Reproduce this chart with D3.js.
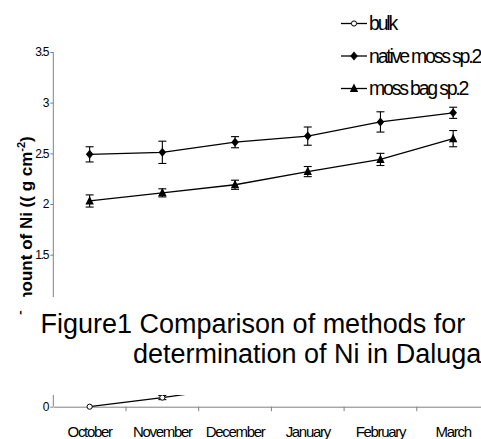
<!DOCTYPE html>
<html lang="en">
<head>
<meta charset="UTF-8">
<title>Ni in Daluga</title>
<script src="https://d3js.org/d3.v7.min.js"></script>
<style>
  body { margin: 0; background: #fff; }
  svg { display: block; font-family: "Liberation Sans", Arial, sans-serif; }
</style>
</head>
<body>
<div id="chart"></div>
<script>
// data
var months = ["October", "November", "December", "January", "February", "March"];
var bulk = [0, 0.09, 0.19, 0.27, 0.38, 0.47];
var bulkErr = [0, 0.02, 0.02, 0.02, 0.02, 0.02];
var nativeMoss = [2.49, 2.51, 2.61, 2.67, 2.81, 2.90];
var nativeErr = [0.075, 0.11, 0.055, 0.09, 0.10, 0.055];
var mossBag = [2.03, 2.11, 2.19, 2.32, 2.44, 2.645];
var mossBagErr = [0.06, 0.04, 0.045, 0.05, 0.06, 0.08];
var yTicks = [0, 0.5, 1, 1.5, 2, 2.5, 3, 3.5];
// 0.5 and 1 sit under the caption box, so they get no label
var yHidden = [0.5, 1];
var seriesNames = ["bulk", "native moss sp.2", "moss bag sp.2"];

var width = 481, height = 439;

var svg = d3.select("#chart").append("svg")
    .attr("width", width)
    .attr("height", height);

var x = d3.scaleBand().domain(months).range([53.3, 489.5]).padding(0);
var y = d3.scaleLinear().domain([0, 3.5]).range([406.7, 52]);

var series = [
    { name: seriesNames[0], values: bulk, err: bulkErr, symbol: "circle" },
    { name: seriesNames[1], values: nativeMoss, err: nativeErr, symbol: "diamond" },
    { name: seriesNames[2], values: mossBag, err: mossBagErr, symbol: "triangle" }
];

function cx(i) { return x(months[i]) + x.bandwidth() / 2; }

// marker drawing
function drawMarker(g, type, px, py) {
    if (type == "circle") {
        g.append("circle").attr("cx", px).attr("cy", py).attr("r", 2.6)
            .attr("fill", "#fff").attr("stroke", "#000").attr("stroke-width", 1);
    } else if (type == "diamond") {
        g.append("path")
            .attr("d", "M" + px + "," + (py - 4.5) + "L" + (px + 3.8) + "," + py + "L" + px + "," + (py + 4.5) + "L" + (px - 3.8) + "," + py + "Z")
            .attr("fill", "#000");
    } else {
        g.append("path")
            .attr("d", "M" + px + "," + (py - 5) + "L" + (px + 4.2) + "," + (py + 3.5) + "L" + (px - 4.2) + "," + (py + 3.5) + "Z")
            .attr("fill", "#000");
    }
}

// y axis
var yAxis = svg.append("g")
    .attr("transform", "translate(53.3,0)")
    .call(d3.axisLeft(y).tickValues(yTicks).tickSize(3).tickPadding(2)
        .tickFormat(function(d) { return yHidden.indexOf(d) >= 0 ? "" : d3.format("")(d); }));
yAxis.select(".domain").attr("stroke", "#808080").attr("d", "M0," + y(3.5) + "V" + y(0));
yAxis.selectAll(".tick line").attr("stroke", "#808080");
yAxis.selectAll(".tick text")
    .attr("font-size", "12px")
    .attr("letter-spacing", "-1.2px")
    .attr("fill", "#000")
    .attr("font-family", "Liberation Sans, Arial, sans-serif");

// x axis
var xAxis = svg.append("g")
    .attr("transform", "translate(0," + y(0) + ")")
    .call(d3.axisBottom(x).tickSize(0).tickPadding(20));
xAxis.select(".domain").attr("stroke", "#808080");
xAxis.selectAll(".tick text")
    .attr("font-size", "15px")
    .attr("letter-spacing", "-1.3px")
    .attr("fill", "#000")
    .attr("font-family", "Liberation Sans, Arial, sans-serif");
xAxis.selectAll(".boundary")
    .data(months)
    .enter().append("line")
    .attr("x1", function(d) { return x(d) + x.bandwidth(); })
    .attr("x2", function(d) { return x(d) + x.bandwidth(); })
    .attr("y1", 0).attr("y2", 4.5)
    .attr("stroke", "#808080");

// series
var line = d3.line()
    .x(function(d, i) { return cx(i); })
    .y(function(d) { return y(d); });

series.forEach(function(s) {
    var g = svg.append("g");
    g.append("path")
        .attr("d", line(s.values))
        .attr("fill", "none")
        .attr("stroke", "#000")
        .attr("stroke-width", 1.3);
    s.values.forEach(function(v, i) {
        var px = cx(i);
        if (s.err[i] > 0) {
            var top = y(v + s.err[i]), bot = y(v - s.err[i]);
            g.append("line").attr("x1", px).attr("x2", px).attr("y1", top).attr("y2", bot)
                .attr("stroke", "#000").attr("stroke-width", 1.1);
            g.append("line").attr("x1", px - 4).attr("x2", px + 4).attr("y1", top).attr("y2", top)
                .attr("stroke", "#000").attr("stroke-width", 1.1);
            g.append("line").attr("x1", px - 4).attr("x2", px + 4).attr("y1", bot).attr("y2", bot)
                .attr("stroke", "#000").attr("stroke-width", 1.1);
        }
        drawMarker(g, s.symbol, px, y(v));
    });
});

// y axis title
var yTitle = svg.append("text")
    .attr("transform", "translate(31.5,227.5) rotate(-90)")
    .attr("text-anchor", "middle")
    .attr("font-size", "17px")
    .attr("font-weight", "bold")
    .attr("fill", "#000");
yTitle.append("tspan").text("Amount of Ni (( g cm");
yTitle.append("tspan").attr("font-size", "11px").attr("dy", "-7").text("-2");
yTitle.append("tspan").attr("dy", "7").text(")");

// the caption box sits on top of the plot
svg.append("rect")
    .attr("x", 21.5).attr("y", 297)
    .attr("width", width - 21.5).attr("height", 98)
    .attr("fill", "#fff");

svg.append("text")
    .attr("x", 40.5).attr("y", 332.7)
    .attr("font-size", "27px")
    .attr("fill", "#000")
    .text("Figure1 Comparison of methods for");
svg.append("text")
    .attr("x", 133).attr("y", 363.3)
    .attr("font-size", "27px")
    .attr("fill", "#000")
    .text("determination of Ni in Daluga");

// legend
var legendY = [23.5, 56, 88.5];
series.forEach(function(s, i) {
    var g = svg.append("g");
    g.append("line").attr("x1", 341).attr("x2", 367)
        .attr("y1", legendY[i]).attr("y2", legendY[i])
        .attr("stroke", "#000").attr("stroke-width", 1.3);
    drawMarker(g, s.symbol, 354, legendY[i]);
    g.append("text")
        .attr("x", 369).attr("y", legendY[i] + 6.5)
        .attr("font-size", "19.5px")
        .attr("letter-spacing", "-2.2px")
        .attr("fill", "#000")
        .text(s.name);
});
</script>
</body>
</html>
